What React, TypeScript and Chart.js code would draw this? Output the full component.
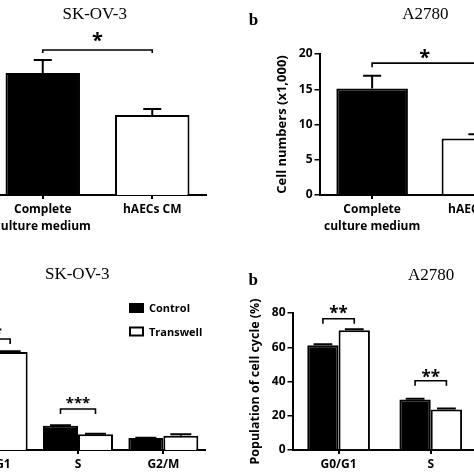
import React, { useEffect, useRef } from "react";
import { Chart, registerables } from "chart.js";

Chart.register(...registerables);

const SANS = '"Open Sans", "DejaVu Sans", sans-serif';
const SERIF = '"Liberation Serif", "Times New Roman", serif';

// ---------------- data ----------------
const cellCategories = [["Complete", "culture medium"], "hAECs CM"];
const skovCellValues = [17.3, 11.35];
const skovCellErrors = [1.85, 0.85];
const a2780CellValues = [15.1, 8.0];
const a2780CellErrors = [1.8, 0.6];
const cellTickValues = [0, 5, 10, 15, 20];

const phaseCategories = ["G0/G1", "S", "G2/M"];
const seriesNames = ["Control", "Transwell"];
const skovControl = [71.6, 19.0, 9.4];
const skovTranswell = [76.6, 12.3, 11.2];
const skovControlErr = [0.5, 0.3, 0.2];
const skovTranswellErr = [0.6, 0.3, 1.1];
const a2780Control = [61.2, 29.5, 9.3];
const a2780Transwell = [69.9, 23.6, 6.5];
const a2780ControlErr = [0.5, 0.5, 0.3];
const a2780TranswellErr = [0.6, 0.6, 0.3];
const phaseTickValues = [0, 20, 40, 60, 80];

// ---------------- annotation plugin ----------------
type TextSpec = { text: string; x: number; y: number; font: string };
type BracketSpec = {
  from: [number, number];
  to: [number, number];
  y: number;
  tick: number;
  text: string;
  font: string;
  dy: number;
};
type AnnotCfg = {
  ox: number;
  oy: number;
  texts: TextSpec[];
  brackets: BracketSpec[];
  capHalf?: number;
  capFrac?: number;
  legend?: { x: number; ys: number[]; w: number; h: number; textX: number; font: string };
};

function inkBaseline(ctx: CanvasRenderingContext2D, text: string, cy: number) {
  const m = ctx.measureText(text);
  return cy + (m.actualBoundingBoxAscent - m.actualBoundingBoxDescent) / 2;
}

function makeAnnot(cfg: AnnotCfg) {
  return {
    id: "annot",
    afterDatasetsDraw(chart: any) {
      const ctx: CanvasRenderingContext2D = chart.ctx;
      const ys = chart.scales.y;
      ctx.save();
      ctx.strokeStyle = "#000";
      ctx.fillStyle = "#000";
      // error bars
      chart.data.datasets.forEach((ds: any, i: number) => {
        const errs = ds.errors;
        if (!errs) return;
        chart.getDatasetMeta(i).data.forEach((bar: any, j: number) => {
          const v = ds.data[j];
          const y0 = ys.getPixelForValue(v);
          const y1 = ys.getPixelForValue(v + errs[j]);
          const cw = cfg.capHalf ?? bar.width * (cfg.capFrac ?? 0.3);
          ctx.lineWidth = 2;
          ctx.beginPath();
          ctx.moveTo(bar.x, y0);
          ctx.lineTo(bar.x, y1);
          ctx.moveTo(bar.x - cw, y1);
          ctx.lineTo(bar.x + cw, y1);
          ctx.stroke();
        });
      });
      // significance brackets
      cfg.brackets.forEach((b) => {
        const x1 = chart.getDatasetMeta(b.from[0]).data[b.from[1]].x;
        const x2 = chart.getDatasetMeta(b.to[0]).data[b.to[1]].x;
        const y = ys.getPixelForValue(b.y);
        ctx.lineWidth = 1.6;
        ctx.beginPath();
        ctx.moveTo(x1, y + b.tick);
        ctx.lineTo(x1, y);
        ctx.lineTo(x2, y);
        ctx.lineTo(x2, y + b.tick);
        ctx.stroke();
        ctx.font = b.font;
        ctx.textAlign = "center";
        ctx.textBaseline = "alphabetic";
        ctx.fillText(b.text, (x1 + x2) / 2, inkBaseline(ctx, b.text, y - b.dy));
      });
      // free texts (page coordinates)
      cfg.texts.forEach((t) => {
        ctx.font = t.font;
        ctx.textAlign = "center";
        ctx.textBaseline = "alphabetic";
        ctx.fillText(t.text, t.x - cfg.ox, inkBaseline(ctx, t.text, t.y - cfg.oy));
      });
      // legend
      if (cfg.legend) {
        const L = cfg.legend;
        chart.data.datasets.forEach((ds: any, i: number) => {
          const bx = L.x - cfg.ox;
          const by = L.ys[i] - cfg.oy;
          ctx.fillStyle = ds.backgroundColor;
          ctx.fillRect(bx, by, L.w, L.h);
          ctx.lineWidth = 2;
          ctx.strokeStyle = "#000";
          ctx.strokeRect(bx + 1, by + 1, L.w - 2, L.h - 2);
          ctx.fillStyle = "#000";
          ctx.font = L.font;
          ctx.textAlign = "left";
          ctx.textBaseline = "alphabetic";
          ctx.fillText(ds.label, L.textX - cfg.ox, inkBaseline(ctx, ds.label, by + L.h / 2));
        });
      }
      ctx.restore();
    },
  };
}

// ---------------- shared option pieces ----------------
const tickFont = (size: number, lh = 1.2) => ({ family: SANS, size, weight: "bold" as const, lineHeight: lh });

function xAxis(height: number, lh: number, padding: number) {
  return {
    type: "category" as const,
    offset: true,
    grid: {
      display: true,
      drawOnChartArea: false,
      drawTicks: true,
      tickLength: 4,
      lineWidth: 2,
      color: "#000",
      offset: false,
    },
    border: { display: true, color: "#000", width: 2 },
    ticks: {
      color: "#000",
      font: tickFont(12, lh),
      padding,
      maxRotation: 0,
      minRotation: 0,
      autoSkip: false,
    },
    afterFit: (s: any) => {
      s.height = height;
    },
  };
}

function yAxisVisible(max: number, tickValues: number[], width: number, title: string, titleSize: number) {
  return {
    min: 0,
    max,
    grid: {
      display: true,
      drawOnChartArea: false,
      drawTicks: true,
      tickLength: 5,
      lineWidth: 1.5,
      color: "#000",
    },
    border: { display: true, color: "#000", width: 2 },
    ticks: { color: "#000", font: tickFont(12), padding: 2 },
    afterBuildTicks: (s: any) => {
      s.ticks = tickValues.map((v) => ({ value: v }));
    },
    title: {
      display: true,
      text: title,
      color: "#000",
      font: { family: SANS, size: titleSize, weight: "bold" as const },
      padding: { top: 4, bottom: 0 },
    },
    afterFit: (s: any) => {
      s.width = width;
    },
  };
}

const basePlugins = {
  legend: { display: false },
  tooltip: { enabled: false },
  title: { display: false },
};

// ---------------- panel configs ----------------
type PanelDef = { left: number; top: number; width: number; height: number; config: any };

const titleFont = `17px ${SERIF}`;
const letterFont = `bold 17px ${SERIF}`;

const panelA: PanelDef = {
  left: -12,
  top: 0,
  width: 219,
  height: 237,
  config: {
    type: "bar",
    data: {
      labels: cellCategories,
      datasets: [
        {
          label: "SK-OV-3",
          data: skovCellValues,
          errors: skovCellErrors,
          backgroundColor: ["#000", "#fff"],
          borderColor: "#000",
          borderWidth: 2,
          barPercentage: 0.68,
          categoryPercentage: 1,
        },
      ],
    },
    options: {
      animation: false,
      responsive: false,
      maintainAspectRatio: false,
      layout: { padding: { top: 54, left: 0, right: 0, bottom: 0 } },
      plugins: basePlugins,
      scales: {
        x: xAxis(42, 1.42, 2),
        y: { display: false, min: 0, max: 20 },
      },
    },
    plugins: [
      makeAnnot({
        ox: -12,
        oy: 0,
        capHalf: 9,
        texts: [{ text: "SK-OV-3", x: 94.7, y: 13.5, font: titleFont }],
        brackets: [
          { from: [0, 0], to: [0, 1], y: 20.57, tick: 3, text: "*", font: `bold 20px ${SANS}`, dy: 13 },
        ],
      }),
    ],
  },
};

const panelB: PanelDef = {
  left: 237,
  top: 0,
  width: 293,
  height: 237,
  config: {
    type: "bar",
    data: {
      labels: cellCategories,
      datasets: [
        {
          label: "A2780",
          data: a2780CellValues,
          errors: a2780CellErrors,
          backgroundColor: ["#000", "#fff"],
          borderColor: "#000",
          borderWidth: 2,
          barPercentage: 0.68,
          categoryPercentage: 1,
        },
      ],
    },
    options: {
      animation: false,
      responsive: false,
      maintainAspectRatio: false,
      layout: { padding: { top: 54, left: 33, right: 0, bottom: 0 } },
      plugins: basePlugins,
      scales: {
        x: xAxis(42, 1.42, 2),
        y: yAxisVisible(20, cellTickValues, 49.5, "Cell numbers (x1,000)", 13),
      },
    },
    plugins: [
      makeAnnot({
        ox: 237,
        oy: 0,
        capHalf: 9,
        texts: [
          { text: "b", x: 253.5, y: 19, font: letterFont },
          { text: "A2780", x: 425.3, y: 13.2, font: titleFont },
        ],
        brackets: [
          { from: [0, 0], to: [0, 1], y: 18.7, tick: 4, text: "*", font: `bold 20px ${SANS}`, dy: 9.5 },
        ],
      }),
    ],
  },
};

const panelC: PanelDef = {
  left: -50,
  top: 237,
  width: 256,
  height: 237,
  config: {
    type: "bar",
    data: {
      labels: phaseCategories,
      datasets: [
        {
          label: seriesNames[0],
          data: skovControl,
          errors: skovControlErr,
          backgroundColor: "#000",
          borderColor: "#000",
          borderWidth: 2,
          barPercentage: 1,
          categoryPercentage: 0.82,
        },
        {
          label: seriesNames[1],
          data: skovTranswell,
          errors: skovTranswellErr,
          backgroundColor: "#fff",
          borderColor: "#000",
          borderWidth: 2,
          barPercentage: 1,
          categoryPercentage: 0.82,
        },
      ],
    },
    options: {
      animation: false,
      responsive: false,
      maintainAspectRatio: false,
      layout: { padding: { top: 85, left: 0, right: 0, bottom: 0 } },
      plugins: basePlugins,
      scales: {
        x: xAxis(24, 1.2, 3),
        y: { display: false, min: 0, max: 100 },
      },
    },
    plugins: [
      makeAnnot({
        ox: -50,
        oy: 237,
        capFrac: 0.3,
        texts: [{ text: "SK-OV-3", x: 77.2, y: 273.5, font: titleFont }],
        brackets: [
          { from: [0, 0], to: [1, 0], y: 86.7, tick: 5, text: "**", font: `bold 17px ${SANS}`, dy: 8.5 },
          { from: [0, 1], to: [1, 1], y: 32.0, tick: 5, text: "***", font: `bold 15px ${SANS}`, dy: 8.5 },
        ],
        legend: { x: 129, ys: [303, 326.5], w: 15, h: 10, textX: 149, font: `bold 11px ${SANS}` },
      }),
    ],
  },
};

const panelD: PanelDef = {
  left: 237,
  top: 237,
  width: 332,
  height: 237,
  config: {
    type: "bar",
    data: {
      labels: phaseCategories,
      datasets: [
        {
          label: seriesNames[0],
          data: a2780Control,
          errors: a2780ControlErr,
          backgroundColor: "#000",
          borderColor: "#000",
          borderWidth: 2,
          barPercentage: 1,
          categoryPercentage: 0.68,
        },
        {
          label: seriesNames[1],
          data: a2780Transwell,
          errors: a2780TranswellErr,
          backgroundColor: "#fff",
          borderColor: "#000",
          borderWidth: 2,
          barPercentage: 1,
          categoryPercentage: 0.68,
        },
      ],
    },
    options: {
      animation: false,
      responsive: false,
      maintainAspectRatio: false,
      layout: { padding: { top: 76, left: 6.5, right: 0, bottom: 0 } },
      plugins: basePlugins,
      scales: {
        x: xAxis(24, 1.2, 3),
        y: yAxisVisible(80, phaseTickValues, 49, "Population of cell cycle (%)", 12.5),
      },
    },
    plugins: [
      makeAnnot({
        ox: 237,
        oy: 237,
        capFrac: 0.3,
        texts: [
          { text: "b", x: 253.2, y: 279.2, font: letterFont },
          { text: "A2780", x: 431.2, y: 274, font: titleFont },
        ],
        brackets: [
          { from: [0, 0], to: [1, 0], y: 76.6, tick: 5, text: "**", font: `bold 17px ${SANS}`, dy: 9 },
          { from: [0, 1], to: [1, 1], y: 40.4, tick: 5, text: "**", font: `bold 17px ${SANS}`, dy: 7.3 },
        ],
      }),
    ],
  },
};

function Panel({ def }: { def: PanelDef }) {
  const ref = useRef<HTMLCanvasElement>(null);
  useEffect(() => {
    const chart = new Chart(ref.current as HTMLCanvasElement, def.config);
    return () => chart.destroy();
  }, [def]);
  return (
    <canvas
      ref={ref}
      width={def.width}
      height={def.height}
      style={{ position: "absolute", left: def.left, top: def.top, width: def.width, height: def.height }}
    />
  );
}

export default function App() {
  return (
    <div
      style={{
        position: "fixed",
        left: 0,
        top: 0,
        width: 474,
        height: 474,
        overflow: "hidden",
        background: "#fff",
      }}
    >
      <Panel def={panelA} />
      <Panel def={panelB} />
      <Panel def={panelC} />
      <Panel def={panelD} />
    </div>
  );
}
